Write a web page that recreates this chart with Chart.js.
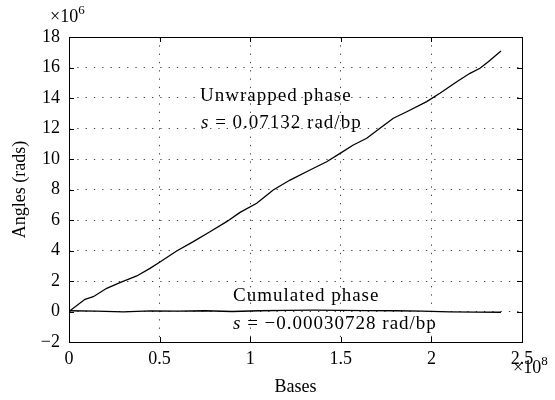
<!DOCTYPE html>
<html>
<head>
<meta charset="utf-8">
<script src="https://cdn.jsdelivr.net/npm/chart.js@4"></script>
<style>
  html, body { margin: 0; padding: 0; background: #fff; }
  #wrap { width: 555px; height: 400px; }
</style>
</head>
<body>
<div id="wrap"><canvas id="c" width="555" height="400"></canvas></div>
<script>
// x values in units of 1e8 bases, y values in units of 1e6 rad
const xExponent = 8;
const yExponent = 6;

const unwrappedX = [0, 0.088, 0.134, 0.208, 0.281, 0.374, 0.447, 0.502, 0.594, 0.686, 0.778, 0.870, 0.944, 1.036, 1.127, 1.22, 1.33, 1.422, 1.496, 1.569, 1.643, 1.716, 1.79, 1.864, 1.974, 2.047, 2.14, 2.213, 2.268, 2.314, 2.384];
const unwrappedY = [0, 0.80, 0.97, 1.52, 1.89, 2.33, 2.83, 3.25, 3.97, 4.58, 5.23, 5.89, 6.50, 7.10, 7.97, 8.62, 9.28, 9.82, 10.37, 10.92, 11.36, 12.01, 12.67, 13.10, 13.76, 14.31, 15.07, 15.62, 15.95, 16.38, 17.08];

const cumulatedX = [0, 0.15, 0.3, 0.45, 0.6, 0.75, 0.9, 1.05, 1.2, 1.35, 1.5, 1.65, 1.8, 1.95, 2.1, 2.25, 2.384];
const cumulatedY = [0.05, 0.02, -0.02, 0.04, 0.03, 0.05, 0.0, 0.05, 0.08, 0.09, 0.07, 0.06, 0.05, 0.02, -0.02, -0.04, -0.05];

const xTickValues = [0, 0.5, 1, 1.5, 2, 2.5];
const yTickValues = [-2, 0, 2, 4, 6, 8, 10, 12, 14, 16, 18];

const unwrappedLabel = "Unwrapped phase";
const unwrappedSlope = "0.07132 rad/bp";
const cumulatedLabel = "Cumulated phase";
const cumulatedSlope = "\u22120.00030728 rad/bp";

const FONT = "'Liberation Serif', 'Times New Roman', serif";

function fmt(v) {
  const s = String(Math.abs(v));
  return v < 0 ? "\u2212" + s : s;
}

const framePlugin = {
  id: 'frameAndText',
  afterDraw(chart) {
    const ctx = chart.ctx;
    const a = chart.chartArea;
    const xs = chart.scales.x, ys = chart.scales.y;
    ctx.save();
    // frame
    ctx.strokeStyle = '#000';
    ctx.lineWidth = 1;
    ctx.setLineDash([]);
    ctx.strokeRect(Math.round(a.left) + 0.5, Math.round(a.top) + 0.5,
                   Math.round(a.right - a.left), Math.round(a.bottom - a.top));
    // inward ticks
    const tl = 5;
    ctx.beginPath();
    xTickValues.forEach(v => {
      const px = Math.round(xs.getPixelForValue(v)) + 0.5;
      ctx.moveTo(px, a.bottom); ctx.lineTo(px, a.bottom - tl);
      ctx.moveTo(px, a.top); ctx.lineTo(px, a.top + tl);
    });
    yTickValues.forEach(v => {
      const py = Math.round(ys.getPixelForValue(v)) + 0.5;
      ctx.moveTo(a.left, py); ctx.lineTo(a.left + tl, py);
      ctx.moveTo(a.right, py); ctx.lineTo(a.right - tl, py);
    });
    ctx.stroke();

    // exponent labels
    ctx.fillStyle = '#000';
    ctx.textBaseline = 'alphabetic';
    ctx.textAlign = 'left';
    ctx.font = "18px " + FONT;
    let w = ctx.measureText("\u00d710").width;
    let x0 = a.left - 19, y0 = 22;
    ctx.fillText("\u00d710", x0, y0);
    ctx.font = "13px " + FONT;
    ctx.fillText(String(yExponent), x0 + w, y0 - 8);

    ctx.font = "18px " + FONT;
    w = ctx.measureText("\u00d710").width;
    x0 = a.right - 9; y0 = a.bottom + 31;
    ctx.fillText("\u00d710", x0, y0);
    ctx.font = "13px " + FONT;
    ctx.fillText(String(xExponent), x0 + w, y0 - 8);

    // annotations
    try { ctx.letterSpacing = '1px'; } catch (e) {}
    function slopeLine(x, y, rest) {
      ctx.font = "italic 19px " + FONT;
      ctx.fillText("s", x, y);
      let ww = ctx.measureText("s").width;
      ctx.font = "19px " + FONT;
      ctx.fillText(" = " + rest, x + ww, y);
    }
    ctx.font = "19px " + FONT;
    ctx.fillText(unwrappedLabel, a.left + 131, a.top + 64);
    slopeLine(a.left + 132, a.top + 91, unwrappedSlope);
    ctx.font = "19px " + FONT;
    ctx.fillText(cumulatedLabel, a.left + 164, a.top + 264);
    slopeLine(a.left + 164, a.top + 292, cumulatedSlope);
    ctx.restore();
  }
};

const ctx = document.getElementById('c').getContext('2d');
new Chart(ctx, {
  type: 'line',
  data: {
    datasets: [
      {
        label: unwrappedLabel,
        data: unwrappedX.map((x, i) => ({x: x, y: unwrappedY[i]})),
        borderColor: '#000',
        borderWidth: 1.3,
        pointRadius: 0,
        tension: 0,
        fill: false
      },
      {
        label: cumulatedLabel,
        data: cumulatedX.map((x, i) => ({x: x, y: cumulatedY[i]})),
        borderColor: '#000',
        borderWidth: 1.3,
        pointRadius: 0,
        tension: 0,
        fill: false
      }
    ]
  },
  options: {
    responsive: false,
    animation: false,
    devicePixelRatio: 1,
    layout: { padding: { left: 0, right: 33, top: 37, bottom: 0 } },
    plugins: { legend: { display: false }, tooltip: { enabled: false } },
    scales: {
      x: {
        type: 'linear',
        min: 0, max: 2.5,
        afterBuildTicks: s => { s.ticks = xTickValues.map(v => ({value: v})); },
        afterFit: s => { s.height = 58; },
        grid: { color: '#444', lineWidth: 1, drawTicks: false },
        border: { display: false, dash: [1.3, 7] },
        ticks: {
          padding: 6,
          color: '#000',
          font: { family: FONT, size: 18 },
          maxRotation: 0,
          callback: v => fmt(v)
        },
        title: {
          display: true, text: 'Bases', color: '#000',
          font: { family: FONT, size: 18 },
          padding: { top: 0, bottom: 2 }
        }
      },
      y: {
        type: 'linear',
        min: -2, max: 18,
        afterBuildTicks: s => { s.ticks = yTickValues.map(v => ({value: v})); },
        afterFit: s => { s.width = 69; },
        grid: { color: '#444', lineWidth: 1, drawTicks: false },
        border: { display: false, dash: [1.3, 7] },
        ticks: {
          padding: 9,
          color: '#000',
          font: { family: FONT, size: 18 },
          callback: v => fmt(v)
        },
        title: {
          display: true, text: 'Angles (rads)', color: '#000',
          font: { family: FONT, size: 18 },
          padding: { top: 9, bottom: 0 }
        }
      }
    }
  },
  plugins: [framePlugin]
});
</script>
</body>
</html>
